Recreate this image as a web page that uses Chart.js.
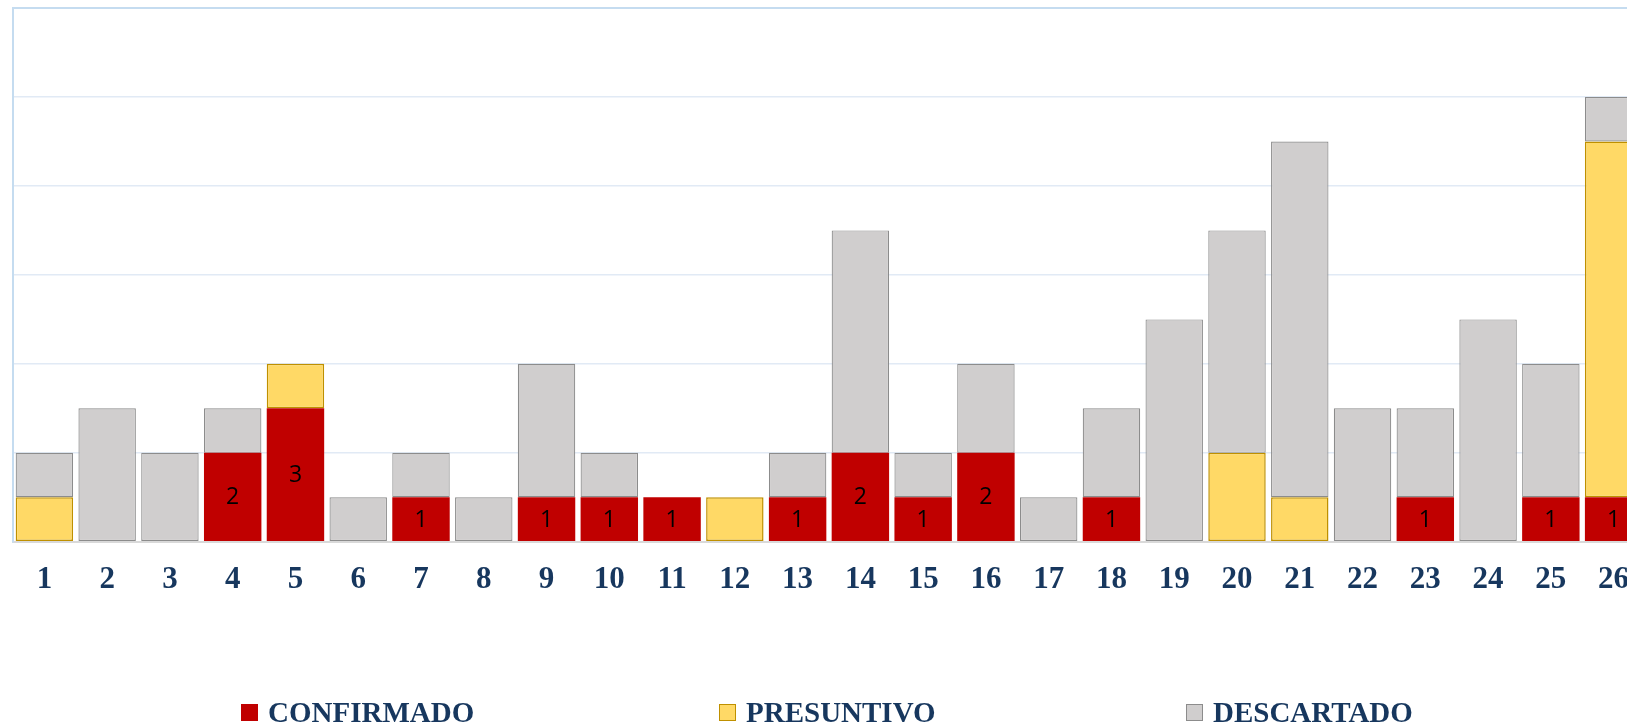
<!DOCTYPE html>
<html>
<head>
<meta charset="utf-8">
<script src="https://cdn.jsdelivr.net/npm/chart.js@4.4.1/dist/chart.umd.min.js"></script>
<style>
  html, body { margin: 0; padding: 0; background: #ffffff; overflow: hidden; width: 1627px; height: 726px; }
  #wrap { position: absolute; left: 0; top: 0; width: 1660px; height: 726px; }
  #legend { position: absolute; left: 0; top: 0; width: 1627px; height: 726px; pointer-events: none; }
  .item { position: absolute; top: 699px; height: 26px; display: flex; align-items: center;
          font-family: "Liberation Serif", serif; font-weight: bold; font-size: 29px; color: #17375e; white-space: nowrap; }
  .box { width: 15px; height: 15px; margin-right: 10px; box-sizing: content-box; }
</style>
</head>
<body>
<div id="wrap"><canvas id="c"></canvas></div>
<div id="legend"></div>
<script>
const categories = ['1','2','3','4','5','6','7','8','9','10','11','12','13','14','15','16','17','18','19','20','21','22','23','24','25','26'];
const confirmado = [0,0,0,2,3,0,1,0,1,1,1,0,1,2,1,2,0,1,0,0,0,0,1,0,1,1];
const presuntivo = [1,0,0,0,1,0,0,0,0,0,0,1,0,0,0,0,0,0,0,2,1,0,0,0,0,8];
const descartado = [1,3,2,1,0,1,1,1,3,1,0,0,1,5,1,2,1,2,5,5,8,3,2,5,3,1];
const seriesNames = ['CONFIRMADO','PRESUNTIVO','DESCARTADO'];
const yTicks = [0,2,4,6,8,10,12];

const fills = ['#c00000','#ffd966','#d0cece'];
const borders = ['#c00000','#bf9000','#8c8c8c'];
const bw = [0, 1.5, 1.2];

const nz = arr => arr.map(v => v === 0 ? null : v);

const valueLabels = {
  id: 'valueLabels',
  afterDatasetsDraw(chart) {
    const ctx = chart.ctx;
    const meta = chart.getDatasetMeta(0);
    ctx.save();
    ctx.font = '23px "Open Sans", "DejaVu Sans", sans-serif';
    ctx.fillStyle = '#000000';
    ctx.textAlign = 'center';
    ctx.textBaseline = 'middle';
    meta.data.forEach((el, i) => {
      const v = chart.data.datasets[0].data[i];
      if (!v) return;
      const props = el.getProps(['x','y','base'], true);
      ctx.fillText(String(v), props.x, (props.y + props.base) / 2 + 1);
    });
    ctx.restore();
  }
};

const chart = new Chart(document.getElementById('c'), {
  type: 'bar',
  data: {
    labels: categories,
    datasets: [confirmado, presuntivo, descartado].map((d, i) => ({
      label: seriesNames[i],
      data: nz(d),
      backgroundColor: fills[i],
      borderColor: borders[i],
      borderWidth: bw[i],
      borderSkipped: false,
      categoryPercentage: 1.0,
      barPercentage: 0.915
    }))
  },
  options: {
    responsive: true,
    maintainAspectRatio: false,
    animation: false,
    layout: { padding: { left: 13, top: 8, right: 15, bottom: 115 } },
    plugins: { legend: { display: false }, tooltip: { enabled: false } },
    scales: {
      x: {
        stacked: true,
        grid: { display: false },
        border: { display: true, color: '#d9d9d9', width: 2 },
        ticks: {
          color: '#17375e',
          padding: 12,
          font: { family: '"Liberation Serif", serif', weight: 'bold', size: 31 },
          maxRotation: 0, autoSkip: false
        }
      },
      y: {
        stacked: true,
        min: yTicks[0],
        max: yTicks[yTicks.length - 1],
        afterBuildTicks: axis => { axis.ticks = yTicks.map(v => ({ value: v })); },
        ticks: { display: false },
        grid: {
          color: c => c.tick && c.tick.value === 12 ? '#c5dcf0' : (c.tick && c.tick.value === 0 ? '#d9d9d9' : '#e1eaf5'),
          lineWidth: c => c.tick && c.tick.value === 12 ? 2 : 1.5,
          drawTicks: false
        },
        border: { display: true, color: '#c5dcf0', width: 2 }
      }
    }
  },
  plugins: [valueLabels]
});

// HTML legend built from the chart's datasets
const legendLeft = [241, 719, 1186];
const legend = document.getElementById('legend');
chart.data.datasets.forEach((ds, i) => {
  const item = document.createElement('div');
  item.className = 'item';
  item.style.left = legendLeft[i] + 'px';
  const box = document.createElement('span');
  box.className = 'box';
  box.style.background = ds.backgroundColor;
  box.style.border = '1px solid ' + (i === 0 ? ds.backgroundColor : ds.borderColor);
  const txt = document.createElement('span');
  txt.textContent = ds.label;
  item.appendChild(box);
  item.appendChild(txt);
  legend.appendChild(item);
});
</script>
</body>
</html>
